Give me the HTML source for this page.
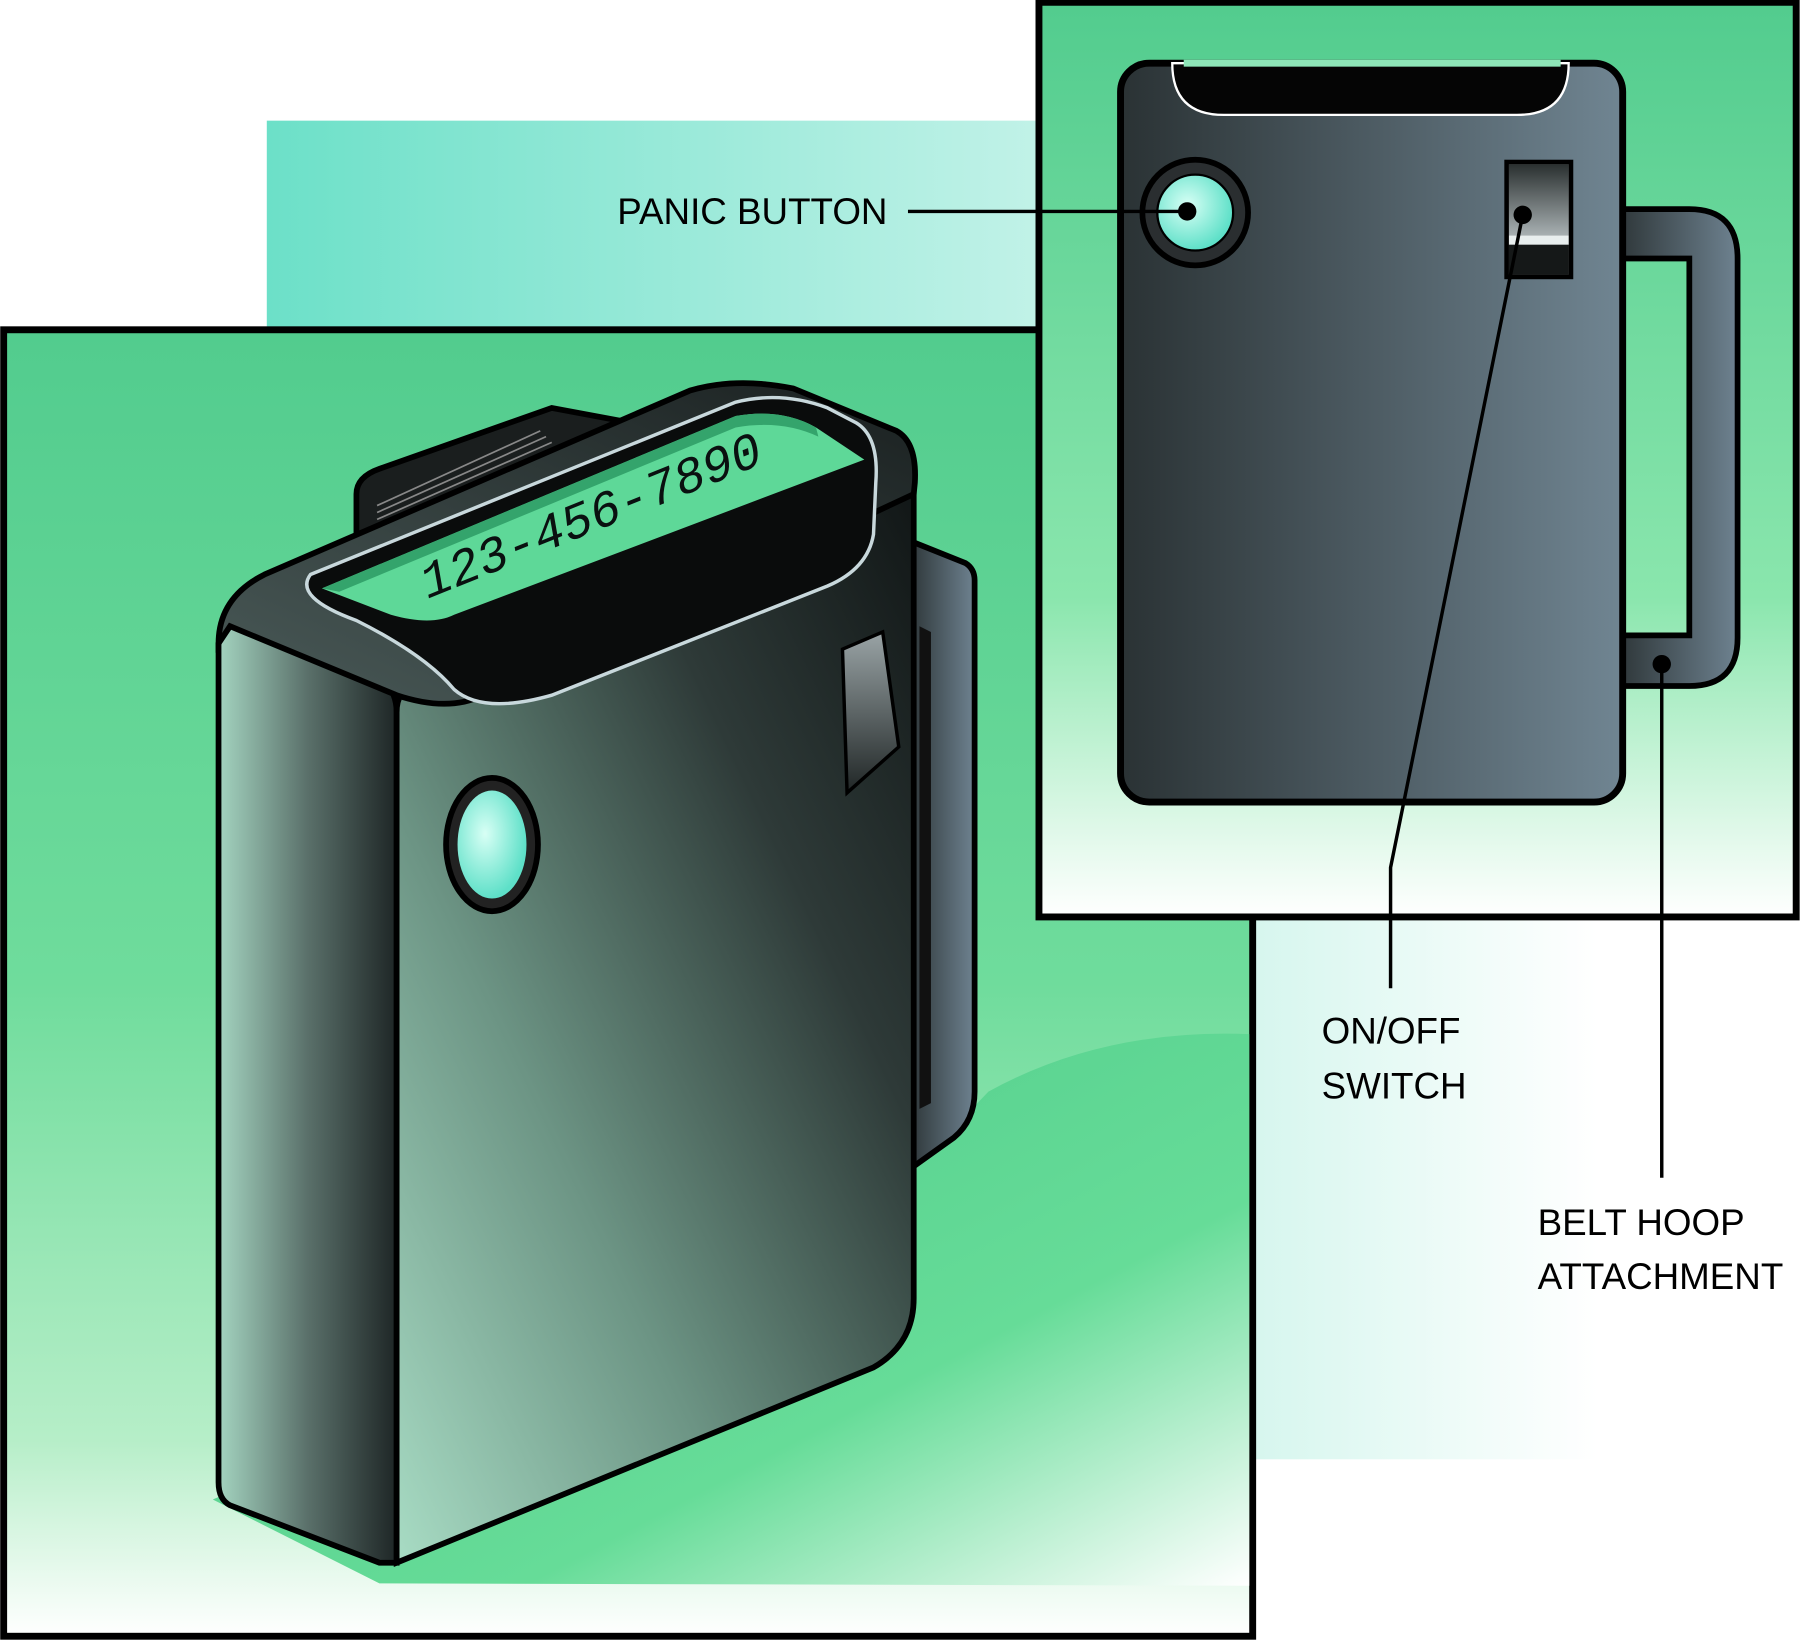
<!DOCTYPE html>
<html><head><meta charset="utf-8"><style>html,body{margin:0;padding:0;background:#fff}svg{display:block}</style></head>
<body>
<svg width="1801" height="1642" viewBox="0 0 1567 1429" xmlns="http://www.w3.org/2000/svg">
<defs>
<linearGradient id="tealBack" x1="0" x2="1" y1="0" y2="0"><stop offset="0" stop-color="#6ce0c8"/><stop offset="1" stop-color="#c2f2e8"/></linearGradient>
<linearGradient id="lightBack" x1="0" x2="1" y1="0" y2="0"><stop offset="0" stop-color="#d6f6ee"/><stop offset="1" stop-color="#ffffff"/></linearGradient>
<linearGradient id="mainBg" x1="0" x2="0" y1="0" y2="1"><stop offset="0" stop-color="#52cc8e"/><stop offset="0.5" stop-color="#6fdc9c"/><stop offset="0.85" stop-color="#b6eec8"/><stop offset="1" stop-color="#ffffff"/></linearGradient>
<linearGradient id="shadowG" x1="0" x2="1" y1="0" y2="1"><stop offset="0" stop-color="#4cc888"/><stop offset="0.65" stop-color="#66dc98"/><stop offset="1" stop-color="#ffffff"/></linearGradient>
<linearGradient id="insetBg" x1="0" x2="0" y1="0" y2="1"><stop offset="0" stop-color="#52cc8e"/><stop offset="0.65" stop-color="#8ae6ad"/><stop offset="1" stop-color="#ffffff"/></linearGradient>
<linearGradient id="backPager" x1="0" x2="1" y1="0" y2="0"><stop offset="0" stop-color="#2a3234"/><stop offset="1" stop-color="#708592"/></linearGradient>
<linearGradient id="front" x1="0" x2="1" y1="1" y2="0"><stop offset="0" stop-color="#a8dcc4"/><stop offset="0.35" stop-color="#6c9484"/><stop offset="0.7" stop-color="#2e3a38"/><stop offset="1" stop-color="#111616"/></linearGradient>
<linearGradient id="side" x1="0" x2="1" y1="0" y2="0"><stop offset="0" stop-color="#a4d4c0"/><stop offset="0.5" stop-color="#5a706a"/><stop offset="1" stop-color="#1e2626"/></linearGradient>
<linearGradient id="topG" x1="0" x2="1" y1="1" y2="0"><stop offset="0" stop-color="#4a5a58"/><stop offset="1" stop-color="#1a2020"/></linearGradient>
<radialGradient id="btn" cx="0.4" cy="0.4" r="0.6"><stop offset="0" stop-color="#d8fff5"/><stop offset="1" stop-color="#5ee0c8"/></radialGradient>
<linearGradient id="clipG" x1="0" x2="1"><stop offset="0" stop-color="#2c3436"/><stop offset="1" stop-color="#6e8290"/></linearGradient>
<linearGradient id="sw" x1="0" x2="0" y1="0" y2="1"><stop offset="0" stop-color="#9aa4a6"/><stop offset="1" stop-color="#202626"/></linearGradient>
<linearGradient id="sw2" x1="0" x2="0" y1="0" y2="1"><stop offset="0" stop-color="#2a3030"/><stop offset="1" stop-color="#a8b0b2"/></linearGradient>
</defs>

<rect x="232" y="105" width="680" height="180" fill="url(#tealBack)"/>
<rect x="1090" y="795" width="300" height="475" fill="url(#lightBack)"/>

<rect x="3" y="287" width="1087" height="1137" fill="url(#mainBg)" stroke="#000" stroke-width="6"/>
<path d="M185,1305 L760,1055 L860,950 Q960,895 1087,900 L1087,1380 L330,1378 Z" fill="url(#shadowG)"/>

<path d="M790,470 L840,490 Q848,495 848,505 L848,950 Q848,975 830,990 L795,1015 Z" fill="url(#clipG)" stroke="#000" stroke-width="5"/>
<path d="M800,545 L810,550 L810,960 L800,965 Z" fill="#111"/>

<path d="M310,430 Q310,415 330,408 L480,355 L560,370 L560,420 L310,470 Z" fill="#1a1e1e" stroke="#000" stroke-width="5"/>
<g stroke="#888" stroke-width="1.5">
<line x1="328" y1="440" x2="470" y2="375"/><line x1="328" y1="446" x2="475" y2="380"/><line x1="328" y1="452" x2="480" y2="385"/><line x1="328" y1="458" x2="485" y2="390"/><line x1="328" y1="464" x2="490" y2="395"/>
</g>

<path d="M195,540 L330,590 Q345,600 345,620 L345,1360 L330,1360 L200,1310 Q190,1305 190,1290 L190,560 Z" fill="url(#side)" stroke="#000" stroke-width="5"/>
<path d="M345,620 Q345,600 360,600 L400,605 L795,420 L795,1130 Q795,1170 760,1190 L345,1360 Z" fill="url(#front)" stroke="#000" stroke-width="5"/>
<path d="M190,560 Q190,520 230,500 L600,340 Q640,328 690,338 L780,375 Q798,385 796,420 L795,430 L420,605 Q390,620 345,605 L200,545 Z" fill="url(#topG)" stroke="#000" stroke-width="5"/>
<path d="M270,500 L640,350 Q680,340 720,355 L745,368 Q765,380 762,420 L760,465 Q755,495 720,510 L480,605 Q420,622 395,600 Q370,570 310,540 Q255,520 270,500 Z" fill="#0a0c0c" stroke="#c8d8dc" stroke-width="3"/>
<path d="M280,512 L640,362 Q680,355 710,372 L752,400 L395,535 Q375,545 340,535 Z" fill="#5ed898"/>
<path d="M280,512 L640,362 Q680,355 710,372 L712,380 Q680,365 640,372 L295,515 Z" fill="#34a46c"/>
<text x="0" y="0" transform="translate(370,522) rotate(-22) skewX(-12)" font-family="Liberation Mono, monospace" font-size="44" fill="#0a1010" letter-spacing="0">123-456-7890</text>

<ellipse cx="428" cy="735" rx="40" ry="58" fill="#222" stroke="#000" stroke-width="5"/>
<ellipse cx="428" cy="735" rx="30" ry="47" fill="url(#btn)"/>
<path d="M733,565 L768,550 L782,650 L737,690 Z" fill="url(#sw)" stroke="#000" stroke-width="3"/>

<rect x="904" y="2" width="659" height="796" fill="url(#insetBg)" stroke="#000" stroke-width="6"/>
<path d="M1405,182 L1470,182 Q1512,182 1512,225 L1512,555 Q1512,597 1470,597 L1405,597 L1405,553 L1470,553 L1470,225 L1405,225 Z" fill="url(#clipG)" stroke="#000" stroke-width="5"/>
<rect x="975" y="55" width="437" height="643" rx="25" fill="url(#backPager)" stroke="#000" stroke-width="6"/>
<path d="M1020,55 Q1020,100 1065,100 L1320,100 Q1365,100 1365,55 Z" fill="#050505" stroke="#fff" stroke-width="2"/>
<rect x="1030" y="52" width="328" height="6" fill="#8ee6b8"/>
<circle cx="1040" cy="185" r="46" fill="#2a2e30" stroke="#000" stroke-width="5"/>
<circle cx="1040" cy="185" r="33" fill="url(#btn)" stroke="#000" stroke-width="2"/>
<rect x="1311" y="141" width="56" height="100" fill="#777" stroke="#000" stroke-width="4"/>
<rect x="1313" y="143" width="52" height="62" fill="url(#sw2)"/>
<rect x="1313" y="205" width="52" height="8" fill="#e8eeee"/>
<rect x="1313" y="213" width="52" height="26" fill="#151818"/>

<g stroke="#000" stroke-width="3" fill="none">
<line x1="790" y1="184" x2="1033" y2="184"/>
<polyline points="1325,187 1210,755 1210,860"/>
<line x1="1446" y1="578" x2="1446" y2="1025"/>
</g>
<circle cx="1033" cy="184" r="8" fill="#000"/>
<circle cx="1325" cy="187" r="8" fill="#000"/>
<circle cx="1446" cy="578" r="8" fill="#000"/>

<g font-family="Liberation Sans, sans-serif" font-size="32" fill="#000">
<text x="537" y="195">PANIC BUTTON</text>
<text x="1150" y="908">ON/OFF</text>
<text x="1150" y="956">SWITCH</text>
<text x="1338" y="1075">BELT HOOP</text>
<text x="1338" y="1122">ATTACHMENT</text>
</g>
</svg>
</body></html>
